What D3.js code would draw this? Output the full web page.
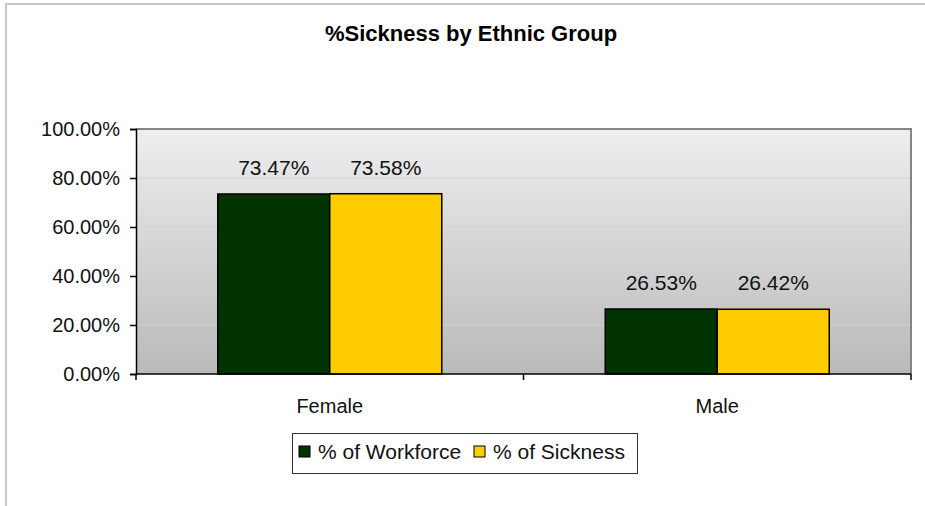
<!DOCTYPE html>
<html>
<head>
<meta charset="utf-8">
<script src="https://cdn.jsdelivr.net/npm/d3@7"></script>
<style>
  html, body { margin: 0; padding: 0; background: #fff; }
  svg { display: block; font-family: "Liberation Sans", Arial, sans-serif; }
</style>
</head>
<body>
<svg id="chart" width="925" height="506"></svg>
<script>
// Chart data
const categories = ["Female", "Male"];
const seriesNames = ["% of Workforce", "% of Sickness"];
const workforce = [73.47, 26.53];
const sickness = [73.58, 26.42];
const yTicks = [0, 20, 40, 60, 80, 100];
const colors = ["#003300", "#ffcc00"];

const seriesValues = [workforce, sickness];

const svg = d3.select("#chart");
const W = 925, H = 506;
const plot = { left: 136, top: 129, right: 911, bottom: 374 };

// Outer frame (top and left edges visible)
svg.append("path")
  .attr("d", `M6,${H} V4 H${W}`)
  .attr("fill", "none")
  .attr("stroke", "#c8c8c8")
  .attr("stroke-width", 2);

// Title
svg.append("text")
  .attr("x", 471).attr("y", 41)
  .attr("text-anchor", "middle")
  .attr("font-weight", "bold")
  .attr("font-size", 22)
  .text("%Sickness by Ethnic Group");

// Scales
const x0 = d3.scaleBand().domain(categories).range([plot.left, plot.right]).paddingInner(0).paddingOuter(0);
const y = d3.scaleLinear().domain([0, 100]).range([plot.bottom, plot.top]);
const groupWidth = 224;
const x1 = d3.scaleBand().domain(seriesNames).range([0, groupWidth]);

// Plot area gradient background
const defs = svg.append("defs");
const grad = defs.append("linearGradient").attr("id", "bg").attr("x1", 0).attr("y1", 0).attr("x2", 0).attr("y2", 1);
grad.append("stop").attr("offset", "0%").attr("stop-color", "#eeeeee");
grad.append("stop").attr("offset", "100%").attr("stop-color", "#bababa");

svg.append("rect")
  .attr("x", plot.left).attr("y", plot.top)
  .attr("width", plot.right - plot.left).attr("height", plot.bottom - plot.top)
  .attr("fill", "url(#bg)");

// Gridlines
svg.append("g").selectAll("line")
  .data(yTicks.filter(t => t > 0 && t < 100))
  .join("line")
  .attr("x1", plot.left).attr("x2", plot.right)
  .attr("y1", d => y(d)).attr("y2", d => y(d))
  .attr("stroke", "#d2d2d2").attr("stroke-width", 1);

// Plot area top/right border
svg.append("path")
  .attr("d", `M${plot.left},${plot.top} H${plot.right} V${plot.bottom}`)
  .attr("fill", "none")
  .attr("stroke", "#858585")
  .attr("stroke-width", 2);

// Bars
const groups = svg.append("g").selectAll("g")
  .data(categories)
  .join("g")
  .attr("transform", c => `translate(${x0(c) + x0.bandwidth() / 2 - groupWidth / 2},0)`);

groups.selectAll("rect")
  .data((c, i) => seriesNames.map((s, j) => ({ s, j, v: seriesValues[j][i] })))
  .join("rect")
  .attr("x", d => x1(d.s))
  .attr("width", x1.bandwidth())
  .attr("y", d => y(d.v))
  .attr("height", d => y(0) - y(d.v))
  .attr("fill", d => colors[d.j])
  .attr("stroke", "#000")
  .attr("stroke-width", 1.5);

// Value labels
groups.selectAll("text")
  .data((c, i) => seriesNames.map((s, j) => ({ s, j, v: seriesValues[j][i] })))
  .join("text")
  .attr("x", d => x1(d.s) + x1.bandwidth() / 2)
  .attr("y", d => y(d.v) - 19)
  .attr("text-anchor", "middle")
  .attr("font-size", 21)
  .attr("fill", "#111")
  .text(d => d.v.toFixed(2) + "%");

// Y axis
const yAxis = d3.axisLeft(y).tickValues(yTicks).tickSize(6).tickPadding(10)
  .tickFormat(d => d.toFixed(2) + "%");
const gy = svg.append("g").attr("transform", `translate(${plot.left},0)`).call(yAxis);
gy.select(".domain").attr("stroke", "#000").attr("stroke-width", 1.5);
gy.selectAll(".tick line").attr("stroke", "#000").attr("stroke-width", 1.5);
gy.selectAll(".tick text").attr("font-size", 20).attr("fill", "#111")
  .attr("font-family", "'Liberation Sans', Arial, sans-serif");

// X axis: category labels, with ticks on band edges
const xAxisG = svg.append("g");
xAxisG.append("line")
  .attr("x1", plot.left).attr("x2", plot.right)
  .attr("y1", plot.bottom).attr("y2", plot.bottom)
  .attr("stroke", "#000").attr("stroke-width", 1.5);
const edges = categories.map(c => x0(c)).concat([x0(categories[categories.length - 1]) + x0.bandwidth()]);
xAxisG.selectAll("line.edge")
  .data(edges)
  .join("line").attr("class", "edge")
  .attr("x1", d => d).attr("x2", d => d)
  .attr("y1", plot.bottom).attr("y2", plot.bottom + 6)
  .attr("stroke", "#000").attr("stroke-width", 1.5);
xAxisG.selectAll("text")
  .data(categories)
  .join("text")
  .attr("x", c => x0(c) + x0.bandwidth() / 2)
  .attr("y", 413)
  .attr("text-anchor", "middle")
  .attr("font-size", 20)
  .attr("fill", "#111")
  .text(c => c);

// Legend
const legend = svg.append("g");
legend.append("rect")
  .attr("x", 292.5).attr("y", 433.5).attr("width", 345).attr("height", 40)
  .attr("fill", "#fff").attr("stroke", "#333").attr("stroke-width", 1);
const legendX = [299, 474];
const items = legend.selectAll("g.item")
  .data(seriesNames)
  .join("g").attr("class", "item")
  .attr("transform", (d, i) => `translate(${legendX[i]},0)`);
items.append("rect")
  .attr("x", 0).attr("y", 446).attr("width", 11).attr("height", 11)
  .attr("fill", (d, i) => colors[i]).attr("stroke", "#000").attr("stroke-width", 1);
items.append("text")
  .attr("x", 19).attr("y", 459)
  .attr("font-size", 21)
  .attr("fill", "#111")
  .text(d => d);
</script>
</body>
</html>
